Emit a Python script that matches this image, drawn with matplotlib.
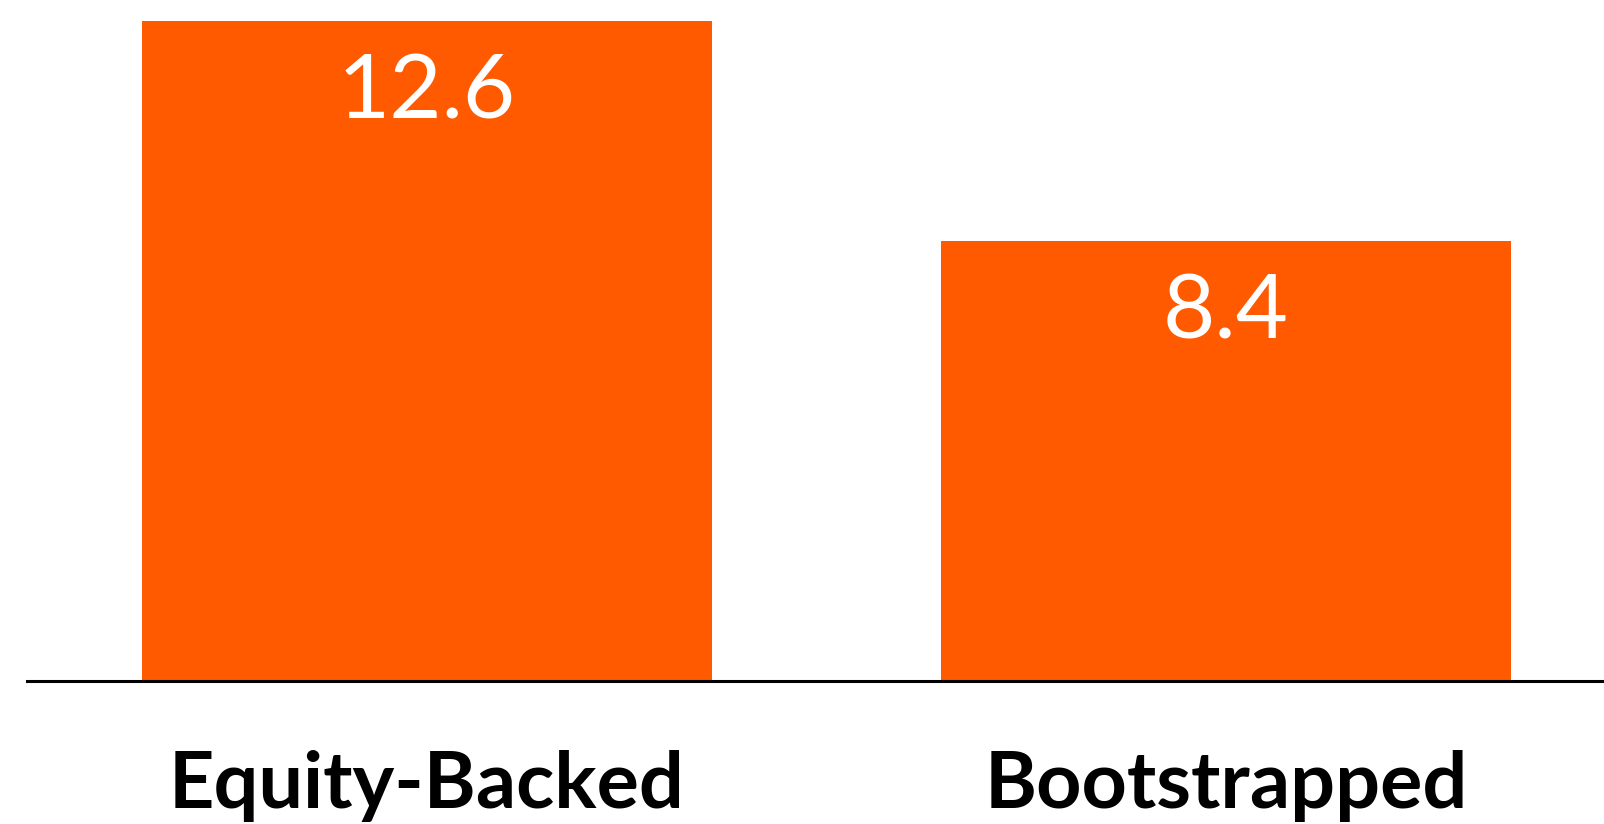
import matplotlib
matplotlib.use("Agg")
from matplotlib import pyplot as plt

# Funding type vs. value
categories = ["Equity-Backed", "Bootstrapped"]
values = [12.6, 8.4]

bar_color = "#FF5A00"

fig = plt.figure(figsize=(16.04, 8.24), dpi=100)
ax = fig.add_axes([27 / 1604, 143 / 824, 1 - 27 / 1604, 660 / 824])

x = list(range(len(categories)))
bars = ax.bar(x, values, width=0.713, color=bar_color, zorder=2)

ax.set_xlim(-0.5, 1.473)
ax.set_ylim(0, 12.6)

# value labels inside the top of each bar
for rect, v in zip(bars, values):
    ax.annotate(f"{v}", (rect.get_x() + rect.get_width() / 2, v),
                xytext=(0, -23), textcoords="offset points",
                ha="center", va="top", color="white",
                fontsize=65, family="Lato", fontweight="normal")

ax.set_xticks(x)
ax.set_xticklabels(categories, family="Lato", fontweight="bold", fontsize=57)
ax.tick_params(axis="x", length=0, pad=50)
ax.set_yticks([])

for side in ["top", "right", "left"]:
    ax.spines[side].set_visible(False)
ax.spines["bottom"].set_linewidth(2.2)
ax.spines["bottom"].set_color("black")

fig.savefig("out.png", dpi=100)
